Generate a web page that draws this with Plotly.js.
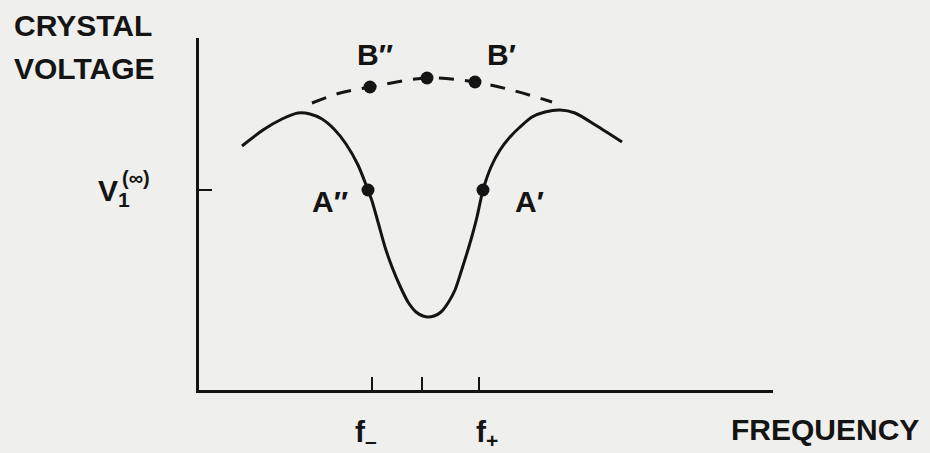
<!DOCTYPE html>
<html>
<head>
<meta charset="utf-8">
<script src="https://cdn.plot.ly/plotly-3.0.1.min.js"></script>
<style>
  html, body { margin: 0; padding: 0; background: #efefed; }
  #chart { width: 930px; height: 453px; }
</style>
</head>
<body>
<div id="chart"></div>
<script>
// Crystal voltage response vs. frequency (arbitrary units)
const curveFreq = [4.3, 6.4, 8.3, 9.9, 11.1, 12.3, 13.5, 14.7, 15.9, 16.9, 17.3, 17.9, 18.6, 19.3, 20.1, 20.9,
                   21.7, 22.4, 22.9, 23.5, 24.2, 24.9, 25.6, 26.2, 26.8, 27.3, 27.8, 28.1, 28.4, 29.2,
                   30.1, 31.1, 32.1, 33.3, 34.6, 36.1, 37.6, 39.8, 42.3];
const curveVolt = [24.4, 26.0, 27.1, 27.7, 27.6, 27.1, 26.1, 24.6, 22.5, 20.0, 18.9, 16.8, 14.3, 12.3, 10.4, 8.8,
                   7.8, 7.4, 7.3, 7.4, 7.8, 8.7, 10.0, 11.8, 13.7, 15.4, 17.3, 18.7, 20.0, 22.3,
                   24.0, 25.3, 26.3, 27.3, 27.8, 28.0, 27.7, 26.4, 24.8];

// Envelope traced by the modulated operating points
const envFreq = [11.3, 14.1, 17.1, 22.8, 27.6, 31.6, 35.3];
const envVolt = [28.7, 29.7, 30.3, 31.2, 30.8, 29.9, 28.8];

// Operating points on the resonance curve (A) and on the envelope (B)
const pointsAFreq = [16.9, 28.4];
const pointsAVolt = [20.0, 20.0];
const pointsBFreq = [17.1, 22.8, 27.6];
const pointsBVolt = [30.3, 31.2, 30.8];

// Axis ticks: f-, centre, f+ and the reference level V1(inf)
const freqTicks = [17.3, 22.3, 28.0];
const freqTickText = ['f<sub>\u2013</sub>', '', 'f<sub>+</sub>'];
const voltRef = 20.0;

const ink = '#141414';
const FONT = 'Liberation Sans, Arial, sans-serif';

// plot area in figure pixels
const L = 199, R = 773, T = 38, B = 390, W = 930, H = 453;
const px = x => (x - L) / (R - L);
const py = y => (B - y) / (B - T);

const traces = [
  { x: curveFreq, y: curveVolt, mode: 'lines', line: { color: ink, width: 3, shape: 'spline', smoothing: 0.7 }, hoverinfo: 'skip' },
  { x: envFreq, y: envVolt, mode: 'lines', line: { color: ink, width: 3, dash: '15px,11px', shape: 'spline', smoothing: 1 }, hoverinfo: 'skip' },
  { x: pointsAFreq, y: pointsAVolt, mode: 'markers', marker: { color: ink, size: 13 }, hoverinfo: 'skip' },
  { x: pointsBFreq, y: pointsBVolt, mode: 'markers', marker: { color: ink, size: 13 }, hoverinfo: 'skip' }
];

const big = { family: FONT, size: 30, color: ink, weight: 'bold' };

const tickLabels = [];
freqTicks.forEach((f, i) => {
  if (!freqTickText[i]) return;
  tickLabels.push({
    text: freqTickText[i], xref: 'x', yref: 'paper', x: f, y: py(433),
    xshift: i === 0 ? -6 : 8, xanchor: 'center', yanchor: 'middle', showarrow: false, font: big
  });
});

const annotations = [
  { text: 'CRYSTAL', xref: 'paper', yref: 'paper', x: px(12), y: py(26), xanchor: 'left', yanchor: 'middle', showarrow: false, font: big },
  { text: 'VOLTAGE', xref: 'paper', yref: 'paper', x: px(12), y: py(69), xanchor: 'left', yanchor: 'middle', showarrow: false, font: big },
  { text: 'FREQUENCY', xref: 'paper', yref: 'paper', x: px(729), y: py(429), xanchor: 'left', yanchor: 'middle', showarrow: false, font: big },
  // labels of the plotted points
  { text: 'A\u2033', xref: 'x', yref: 'y', x: pointsAFreq[0], y: pointsAVolt[0], xshift: -38, yshift: -11, xanchor: 'center', yanchor: 'middle', showarrow: false, font: big },
  { text: 'A\u2032', xref: 'x', yref: 'y', x: pointsAFreq[1], y: pointsAVolt[1], xshift: 46, yshift: -11, xanchor: 'center', yanchor: 'middle', showarrow: false, font: big },
  { text: 'B\u2033', xref: 'x', yref: 'y', x: pointsBFreq[0], y: pointsBVolt[0], xshift: 5, yshift: 33, xanchor: 'center', yanchor: 'middle', showarrow: false, font: big },
  { text: 'B\u2032', xref: 'x', yref: 'y', x: pointsBFreq[2], y: pointsBVolt[2], xshift: 26, yshift: 28, xanchor: 'center', yanchor: 'middle', showarrow: false, font: big },
  ...tickLabels,
  // reference voltage label
  { text: 'V<sub>1</sub>', xref: 'paper', yref: 'y', x: px(96), y: voltRef, yshift: -2, xanchor: 'left', yanchor: 'middle', showarrow: false, font: big },
  { text: '(\u221e)', xref: 'paper', yref: 'y', x: px(120), y: voltRef, yshift: 12, xanchor: 'left', yanchor: 'middle', showarrow: false, font: { family: FONT, size: 20, color: ink, weight: 'bold' } }
];

const layout = {
  width: W, height: H,
  margin: { l: L, r: W - R, t: T, b: H - B, pad: 0 },
  paper_bgcolor: '#efefed',
  plot_bgcolor: '#efefed',
  showlegend: false,
  xaxis: {
    range: [0, 57.4], showline: true, linewidth: 3, linecolor: ink, mirror: false,
    ticks: 'inside', ticklen: 13, tickwidth: 2.5, tickcolor: ink,
    tickvals: freqTicks, showticklabels: false,
    showgrid: false, zeroline: false, fixedrange: true
  },
  yaxis: {
    range: [0, 35.2], showline: true, linewidth: 3, linecolor: ink,
    ticks: 'inside', ticklen: 13, tickwidth: 2.5, tickcolor: ink,
    tickvals: [voltRef], showticklabels: false,
    showgrid: false, zeroline: false, fixedrange: true
  },
  annotations: annotations
};

Plotly.newPlot('chart', traces, layout, { staticPlot: true, displayModeBar: false });
</script>
</body>
</html>
